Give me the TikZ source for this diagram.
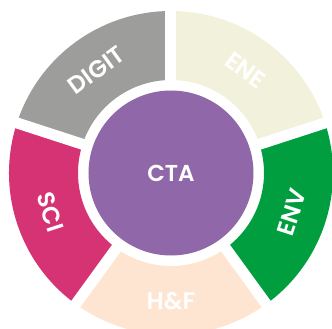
\documentclass[tikz,border=0pt]{standalone}
\usepackage{fontspec}
\setmainfont{Poppins}[BoldFont={Poppins SemiBold}]
\definecolor{ctapurple}{HTML}{9068A9}
\definecolor{digitgray}{HTML}{9D9D9C}
\definecolor{enecream}{HTML}{F2F2DC}
\definecolor{envgreen}{HTML}{009E3F}
\definecolor{scipink}{HTML}{D63374}
\definecolor{hfpeach}{HTML}{FDE5D1}
\begin{document}
\begin{tikzpicture}[x=1pt,y=1pt,
  seglabel/.style={text=white, font=\bfseries\fontsize{24}{24}\selectfont, inner sep=0pt},
  sep/.style={white, line width=11pt}]
\useasboundingbox (-171,-156) rectangle (161,173);
\clip (-171,-156) rectangle (161,173);
\def\rin{93}\def\rout{162}
\foreach \a/\b/\c in {18/90/enecream, 90/162/digitgray, 162/234/scipink, 234/306/hfpeach, 306/378/envgreen}{
  \fill[\c] (\a:\rin) arc[start angle=\a, end angle=\b, radius=\rin] -- (\b:\rout) arc[start angle=\b, end angle=\a, radius=\rout] -- cycle;
}
\coordinate (o) at (0,0);
\foreach \a in {18,90,162,234,306}{
  \coordinate (s\a) at (\a:175);
  \draw[sep] (o) -- (s\a);
}
\node[circle, fill=ctapurple, minimum size=165pt, inner sep=0pt, text=white, font=\bfseries\fontsize{23}{23}\selectfont] (cta) at (o) {CTA};
\node[seglabel, rotate=36] (digit) at (126:127) {DIGIT};
\node[seglabel, rotate=-36] (ene) at (54:127) {ENE};
\node[seglabel, rotate=72] (env) at (-18:127) {ENV};
\node[seglabel, rotate=0] (hf) at (-90:128) {H\&F};
\node[seglabel, rotate=-72] (sci) at (198:127) {SCI};
\end{tikzpicture}
\end{document}
